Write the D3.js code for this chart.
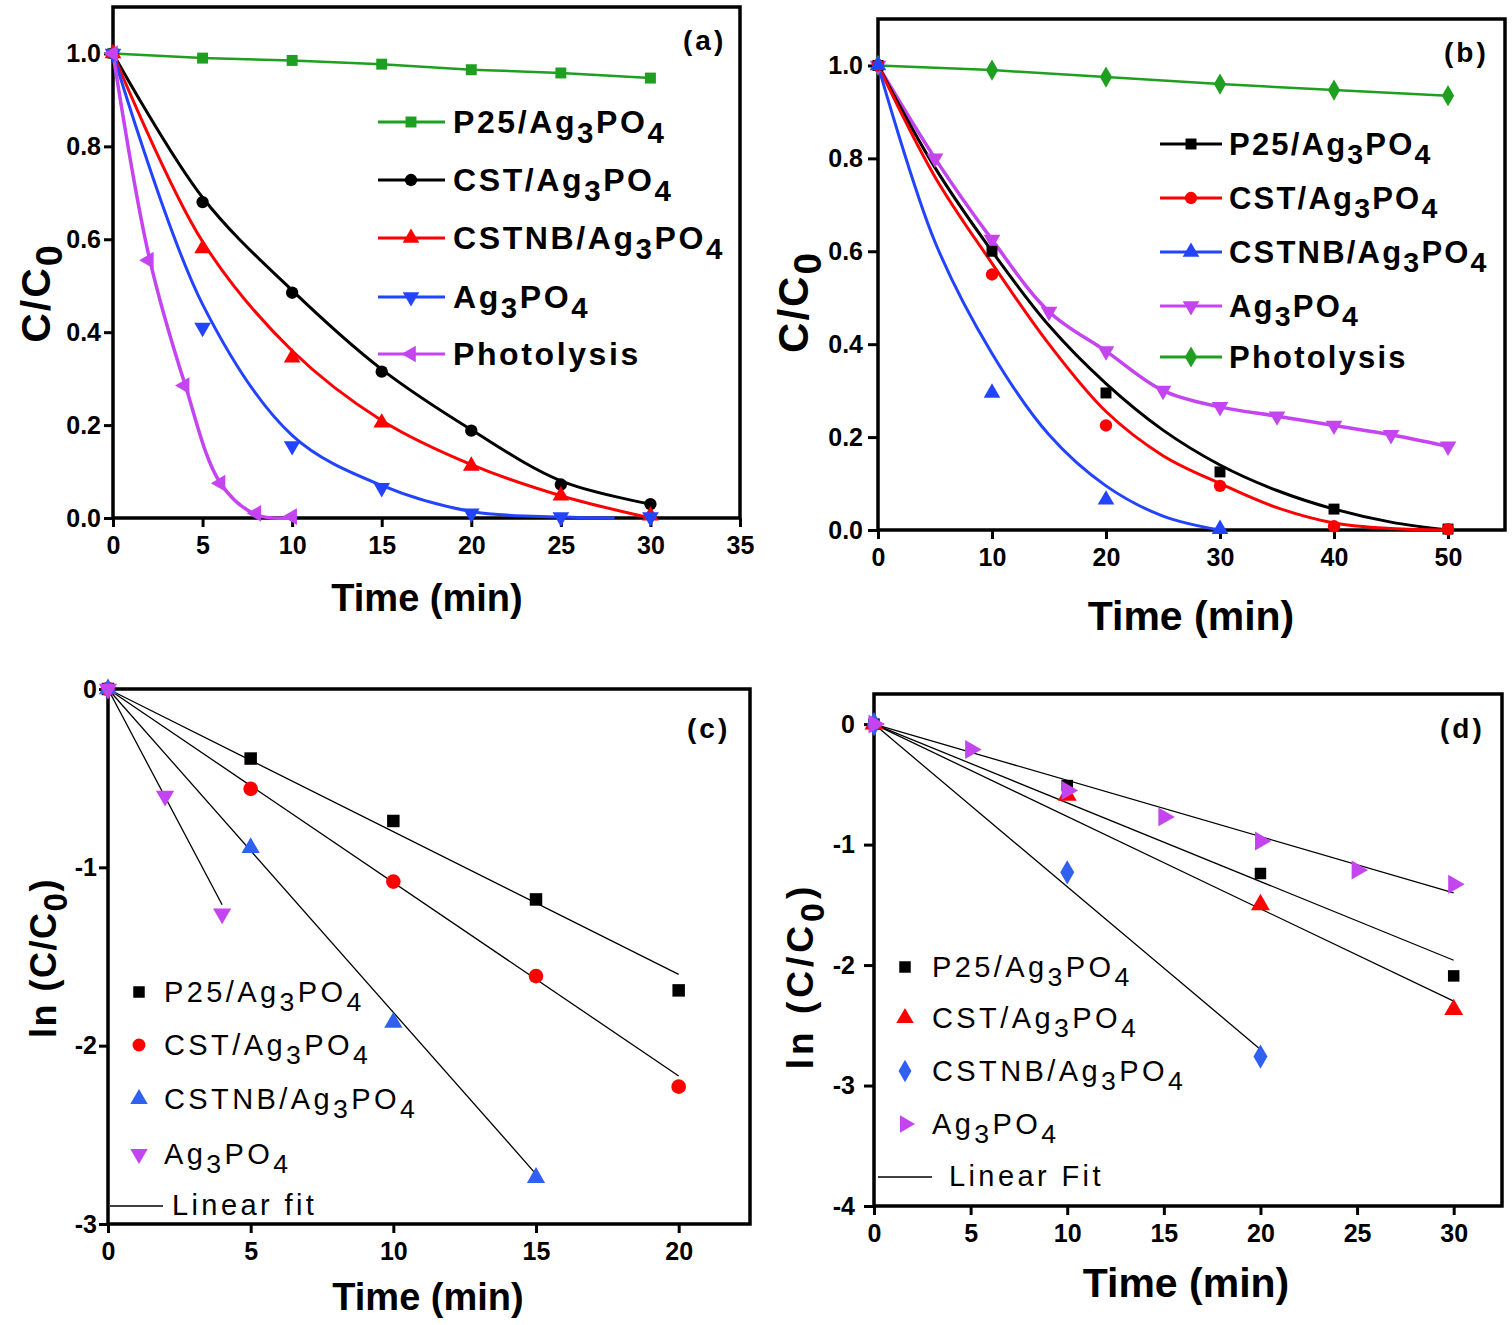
<!DOCTYPE html>
<html>
<head>
<meta charset="utf-8">
<script src="https://cdn.jsdelivr.net/npm/d3@7"></script>
<style>
body { margin: 0; background: #fff; }
text { font-family: Arial, "Liberation Sans", sans-serif; fill: #000; }
</style>
</head>
<body>
<svg id="fig" width="1512" height="1325"></svg>
<script>
// ---- panel (a): C/C0 vs time ----
var timeA = [0, 5, 10, 15, 20, 25, 30];
var aP25 = [1.0, 0.99, 0.985, 0.977, 0.965, 0.958, 0.947];
var aCST = [1.0, 0.68, 0.485, 0.315, 0.188, 0.072, 0.03];
var aCSTNB = [1.0, 0.58, 0.345, 0.205, 0.112, 0.048, 0.005];
var aAg = [1.0, 0.41, 0.155, 0.065, 0.01, 0.002, 0.002];
var timeAPhoto = [0, 2, 4, 6, 8, 10];
var aPhoto = [1.0, 0.555, 0.285, 0.075, 0.01, 0.003];
// fitted curves
var aFitCST = [1.0, 0.69, 0.49, 0.32, 0.19, 0.08, 0.03];
var aFitCSTNB = [1.0, 0.595, 0.36, 0.21, 0.115, 0.048, 0.0];
var timeAFitAg = [0, 5, 10, 15, 20, 25, 28];
var aFitAg = [1.0, 0.46, 0.178, 0.07, 0.014, 0.002, 0.0];
var aFitPhoto = [1.0, 0.565, 0.29, 0.075, 0.007, 0.0];

// ---- panel (b) ----
var timeB = [0, 10, 20, 30, 40, 50];
var bP25 = [1.0, 0.60, 0.295, 0.125, 0.045, 0.002];
var bCST = [1.0, 0.55, 0.225, 0.095, 0.008, 0.002];
var timeBNB = [0, 10, 20, 30];
var bCSTNB = [1.0, 0.295, 0.065, 0.002];
var timeBAg = [0, 5, 10, 15, 20, 25, 30, 35, 40, 45, 50];
var bAg = [1.0, 0.80, 0.625, 0.47, 0.385, 0.30, 0.265, 0.245, 0.225, 0.205, 0.18];
var bPhoto = [1.0, 0.99, 0.975, 0.96, 0.947, 0.935];
var timeBFit = [0, 5, 10, 15, 20, 25, 30, 35, 40, 45, 50];
var bFitP25 = [1.0, 0.78, 0.60, 0.44, 0.315, 0.215, 0.14, 0.085, 0.045, 0.017, 0.0];
var bFitCST = [1.0, 0.76, 0.574, 0.40, 0.255, 0.16, 0.10, 0.048, 0.015, 0.003, 0.0];
var timeBFitNB = [0, 5, 10, 15, 20, 25, 30];
var bFitCSTNB = [1.0, 0.62, 0.38, 0.205, 0.095, 0.03, 0.0];

// ---- panel (c): ln(C/C0) ----
var timeC = [0, 5, 10, 15, 20];
var cP25 = [0, -0.39, -0.74, -1.18, -1.69];
var cCST = [0, -0.56, -1.08, -1.61, -2.23];
var timeCNB = [0, 5, 10, 15];
var cCSTNB = [0, -0.89, -1.87, -2.74];
var timeCAg = [0, 2, 4];
var cAg = [0, -0.6, -1.26];
var cFitP25 = [0, -1.60];     // at t = 0, 20
var cFitCST = [0, -2.17];     // at t = 0, 20
var cFitCSTNB = [0, -2.72];   // at t = 0, 15
var cFitAg = [0, -1.21];      // at t = 0, 4

// ---- panel (d) ----
var timeD = [0, 10, 20, 30];
var dP25 = [0, -0.51, -1.24, -2.09];
var dCST = [0, -0.59, -1.50, -2.37];
var timeDNB = [0, 10, 20];
var dCSTNB = [0, -1.23, -2.76];
var timeDAg = [0, 5, 10, 15, 20, 25, 30];
var dAg = [0, -0.21, -0.55, -0.77, -0.97, -1.21, -1.33];
var dFitP25 = [0, -1.96];     // at t = 0, 30
var dFitCST = [0, -2.30];
var dFitCSTNB = [0, -2.70];   // at t = 0, 20
var dFitAg = [0, -1.40];

var GREEN = '#1f9f1f', RED = '#ff0000', BLUE = '#2244ff', MAG = '#c444f0', BLACK = '#000';
var smooth = d3.curveCatmullRom.alpha(0.5);

var svg = d3.select('#fig');

// text with "_3" style subscripts
function rich(t, s, fs) {
  var parts = s.split(/_(\d)/);
  var pending = 0;
  parts.forEach(function(p, i) {
    if (p === '') return;
    var ts = t.append('tspan').text(p);
    if (i % 2 === 1) {
      ts.attr('dy', fs * 0.3).attr('font-size', fs * 0.92);
      pending = -fs * 0.3;
    } else if (pending) {
      ts.attr('dy', pending);
      pending = 0;
    }
  });
  return t;
}

function panel(o) {
  var x = d3.scaleLinear().domain(o.xd).range([o.l, o.r]);
  var y = d3.scaleLinear().domain(o.yd).range([o.b, o.t]);
  var g = svg.append('g');
  var ax = g.append('g').attr('transform', 'translate(0,' + o.b + ')')
    .call(d3.axisBottom(x).tickValues(o.xt).tickSize(9).tickPadding(9).tickSizeOuter(0)
      .tickFormat(function(d) { return String(d); }));
  var ay = g.append('g').attr('transform', 'translate(' + o.l + ',0)')
    .call(d3.axisLeft(y).tickValues(o.yt).tickSize(o.ytick).tickPadding(o.ypad).tickSizeOuter(0)
      .tickFormat(o.yf));
  [ax, ay].forEach(function(a) {
    a.select('.domain').remove();
    a.selectAll('line').attr('stroke', '#000').attr('stroke-width', 3);
    a.selectAll('text').attr('font-size', 25).attr('font-weight', 'bold')
      .attr('font-family', 'Arial, "Liberation Sans", sans-serif').attr('fill', '#000');
  });
  g.append('rect').attr('x', o.l).attr('y', o.t).attr('width', o.r - o.l).attr('height', o.b - o.t)
    .attr('fill', 'none').attr('stroke', '#000').attr('stroke-width', 3.5);
  return { g: g, x: x, y: y };
}

function curve(p, xs, ys, color, w, type) {
  var line = d3.line().x(function(d) { return p.x(d[0]); }).y(function(d) { return p.y(d[1]); })
    .curve(type || d3.curveLinear);
  p.g.append('path').datum(d3.zip(xs, ys)).attr('d', line)
    .attr('fill', 'none').attr('stroke', color).attr('stroke-width', w).attr('stroke-linejoin', 'round');
}

var SHAPES = {
  square: [d3.symbolSquare, 0, 120],
  circle: [d3.symbolCircle, 0, 120],
  up: [d3.symbolTriangle, 0, 120],
  down: [d3.symbolTriangle, 180, 120],
  left: [d3.symbolTriangle, -90, 120],
  right: [d3.symbolTriangle, 90, 120],
  diamond: [d3.symbolDiamond, 0, 130]
};

function symbolAt(g, cx, cy, color, shape, scale) {
  var s = SHAPES[shape];
  g.append('path').attr('d', d3.symbol().type(s[0]).size(s[2] * (scale || 1))())
    .attr('transform', 'translate(' + cx + ',' + cy + ') rotate(' + s[1] + ')')
    .attr('fill', color);
}

function marks(p, xs, ys, color, shape, scale) {
  xs.forEach(function(xv, i) { symbolAt(p.g, p.x(xv), p.y(ys[i]), color, shape, scale); });
}

function label(x, y, s, fs, weight, opts) {
  opts = opts || {};
  var t = svg.append('text').attr('x', x).attr('y', y).attr('font-size', fs)
    .attr('font-weight', weight).attr('text-anchor', opts.anchor || 'start')
    .attr('letter-spacing', opts.ls || 0);
  if (opts.rotate) t.attr('transform', 'rotate(-90,' + x + ',' + y + ')');
  return rich(t, s, fs);
}

var fmt1 = d3.format('.1f');
function fmtInt(d) { return String(d); }

// ================= (a) =================
var pa = panel({ l: 113, r: 740, t: 7, b: 518, xd: [0, 35], yd: [0, 1.1],
  xt: [0, 5, 10, 15, 20, 25, 30, 35], yt: [0, 0.2, 0.4, 0.6, 0.8, 1.0], yf: fmt1, ytick: 9, ypad: 3 });
curve(pa, timeA, aP25, GREEN, 2.5);
curve(pa, timeA, aFitCST, BLACK, 3, smooth);
curve(pa, timeA, aFitCSTNB, RED, 3, smooth);
curve(pa, timeAFitAg, aFitAg, BLUE, 3, smooth);
curve(pa, timeAPhoto, aFitPhoto, MAG, 3.5, smooth);
marks(pa, timeA, aP25, GREEN, 'square');
marks(pa, timeA, aCST, BLACK, 'circle');
marks(pa, timeA, aCSTNB, RED, 'up');
marks(pa, timeA, aAg, BLUE, 'down');
marks(pa, timeAPhoto, aPhoto, MAG, 'left');

var legA = [['P25/Ag_3PO_4', GREEN, 'square'], ['CST/Ag_3PO_4', BLACK, 'circle'],
  ['CSTNB/Ag_3PO_4', RED, 'up'], ['Ag_3PO_4', BLUE, 'down'], ['Photolysis', MAG, 'left']];
var legAy = [122, 180, 238, 297, 354];
legA.forEach(function(e, i) {
  var yy = legAy[i];
  svg.append('line').attr('x1', 378).attr('x2', 445).attr('y1', yy).attr('y2', yy)
    .attr('stroke', e[1]).attr('stroke-width', 3);
  symbolAt(svg, 411, yy, e[1], e[2]);
  label(453, yy + 11, e[0], 32, 'bold', { ls: 2.6 });
});
label(683, 50, '(a)', 28, 'bold', { ls: 3 });
label(427, 611, 'Time (min)', 38, 'bold', { anchor: 'middle' });
label(50, 293, 'C/C_0', 41, 'bold', { anchor: 'middle', rotate: true, ls: 2 });

// ================= (b) =================
var pb = panel({ l: 878, r: 1505, t: 19, b: 530, xd: [0, 55], yd: [0, 1.1],
  xt: [0, 10, 20, 30, 40, 50], yt: [0, 0.2, 0.4, 0.6, 0.8, 1.0], yf: fmt1, ytick: 10, ypad: 5 });
curve(pb, timeB, bPhoto, GREEN, 2.5);
curve(pb, timeBAg, bAg, MAG, 3.5, smooth);
curve(pb, timeBFit, bFitP25, BLACK, 3, smooth);
curve(pb, timeBFit, bFitCST, RED, 3, smooth);
curve(pb, timeBFitNB, bFitCSTNB, BLUE, 3, smooth);
marks(pb, timeB, bPhoto, GREEN, 'diamond');
marks(pb, timeBAg, bAg, MAG, 'down');
marks(pb, timeB, bP25, BLACK, 'square');
marks(pb, timeB, bCST, RED, 'circle');
marks(pb, timeBNB, bCSTNB, BLUE, 'up');

var legB = [['P25/Ag_3PO_4', BLACK, 'square'], ['CST/Ag_3PO_4', RED, 'circle'],
  ['CSTNB/Ag_3PO_4', BLUE, 'up'], ['Ag_3PO_4', MAG, 'down'], ['Photolysis', GREEN, 'diamond']];
var legBy = [144, 198, 252, 306, 357];
legB.forEach(function(e, i) {
  var yy = legBy[i];
  svg.append('line').attr('x1', 1160).attr('x2', 1222).attr('y1', yy).attr('y2', yy)
    .attr('stroke', e[1]).attr('stroke-width', 3);
  symbolAt(svg, 1191, yy, e[1], e[2]);
  label(1229, yy + 11, e[0], 31, 'bold', { ls: 2.2 });
});
label(1444, 62, '(b)', 28, 'bold', { ls: 3 });
label(1191, 630, 'Time (min)', 41, 'bold', { anchor: 'middle' });
label(808, 302, 'C/C_0', 42, 'bold', { anchor: 'middle', rotate: true, ls: 2 });

// ================= (c) =================
var pc = panel({ l: 108, r: 750, t: 689, b: 1224, xd: [0, 22.5], yd: [-3, 0],
  xt: [0, 5, 10, 15, 20], yt: [-3, -2, -1, 0], yf: fmtInt, ytick: 9, ypad: 2 });
curve(pc, [0, 20], cFitP25, BLACK, 1.3);
curve(pc, [0, 20], cFitCST, BLACK, 1.3);
curve(pc, [0, 15], cFitCSTNB, BLACK, 1.3);
curve(pc, [0, 4], cFitAg, BLACK, 1.3);
marks(pc, timeC, cP25, BLACK, 'square', 1.3);
marks(pc, timeC, cCST, RED, 'circle', 1.4);
marks(pc, timeCNB, cCSTNB, '#3060f0', 'up', 1.2);
marks(pc, timeCAg, cAg, MAG, 'down', 1.2);

var legC = [['P25/Ag_3PO_4', BLACK, 'square'], ['CST/Ag_3PO_4', RED, 'circle'],
  ['CSTNB/Ag_3PO_4', '#3060f0', 'up'], ['Ag_3PO_4', MAG, 'down']];
var legCy = [992, 1045, 1099, 1154];
legC.forEach(function(e, i) {
  symbolAt(svg, 139, legCy[i], e[1], e[2], 1.1);
  label(164, legCy[i] + 10, e[0], 29, 'normal', { ls: 3.4 });
});
svg.append('line').attr('x1', 110).attr('x2', 163).attr('y1', 1206).attr('y2', 1206)
  .attr('stroke', '#000').attr('stroke-width', 1.5);
label(172, 1215, 'Linear fit', 29, 'normal', { ls: 3.4 });
label(687, 738, '(c)', 28, 'bold', { ls: 3 });
label(428, 1310, 'Time (min)', 38, 'bold', { anchor: 'middle' });
label(56, 958, 'ln (C/C_0)', 36, 'bold', { anchor: 'middle', rotate: true, ls: 1.5 });

// ================= (d) =================
var pd = panel({ l: 874, r: 1502, t: 694, b: 1206, xd: [0, 32.5], yd: [-4, 0.25],
  xt: [0, 5, 10, 15, 20, 25, 30], yt: [-4, -3, -2, -1, 0], yf: fmtInt, ytick: 10, ypad: 9 });
curve(pd, [0, 30], dFitP25, BLACK, 1.3);
curve(pd, [0, 30], dFitCST, BLACK, 1.3);
curve(pd, [0, 20], dFitCSTNB, BLACK, 1.3);
curve(pd, [0, 30], dFitAg, BLACK, 1.3);
marks(pd, timeD, dP25, BLACK, 'square', 1.1);
marks(pd, timeD, dCST, RED, 'up', 1.3);
marks(pd, timeDNB, dCSTNB, '#3060f0', 'diamond', 1.3);
marks(pd, timeDAg, dAg, MAG, 'right', 1.3);

var legD = [['P25/Ag_3PO_4', BLACK, 'square'], ['CST/Ag_3PO_4', RED, 'up'],
  ['CSTNB/Ag_3PO_4', '#3060f0', 'diamond'], ['Ag_3PO_4', MAG, 'right']];
var legDy = [967, 1018, 1071, 1124];
legD.forEach(function(e, i) {
  symbolAt(svg, 905, legDy[i], e[1], e[2], 1.1);
  label(932, legDy[i] + 10, e[0], 29, 'normal', { ls: 3.4 });
});
svg.append('line').attr('x1', 878).attr('x2', 932).attr('y1', 1177).attr('y2', 1177)
  .attr('stroke', '#000').attr('stroke-width', 1.5);
label(949, 1186, 'Linear Fit', 29, 'normal', { ls: 3.4 });
label(1440, 738, '(d)', 28, 'bold', { ls: 3 });
label(1186, 1297, 'Time (min)', 41, 'bold', { anchor: 'middle' });
label(813, 976, 'ln (C/C_0)', 37, 'bold', { anchor: 'middle', rotate: true, ls: 4 });
</script>
</body>
</html>
